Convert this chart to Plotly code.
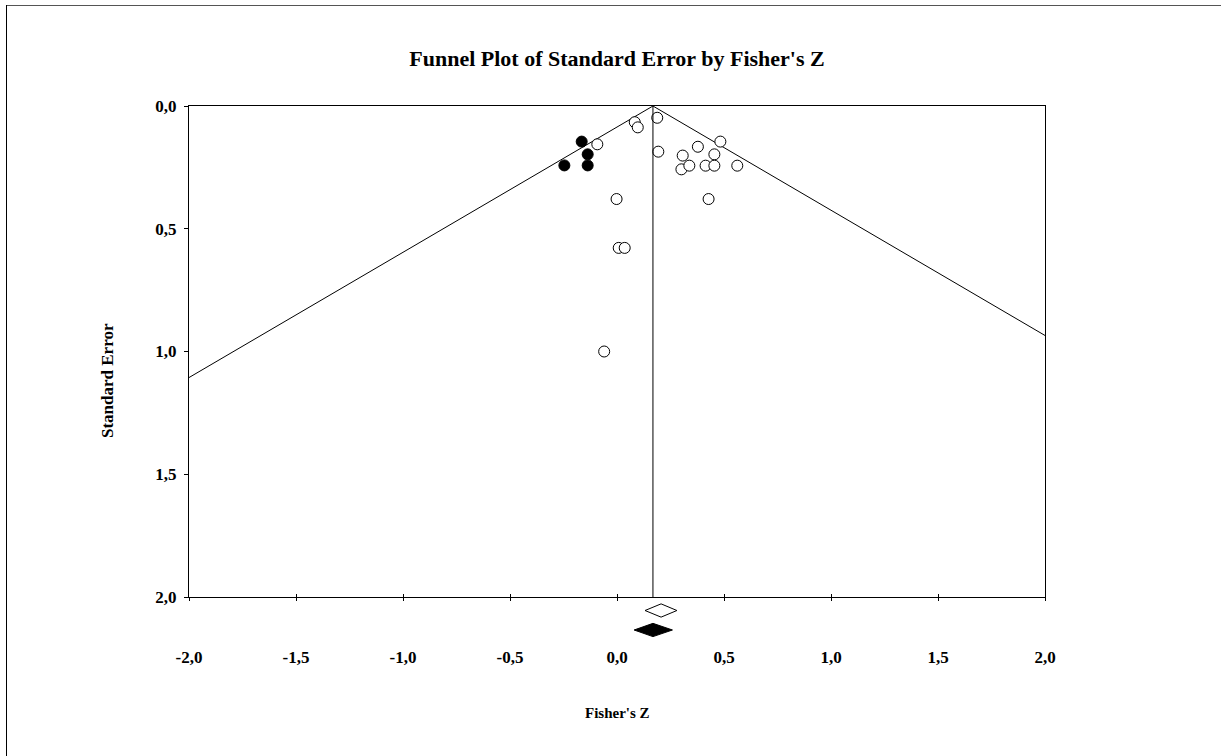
import plotly.graph_objects as go

# ---- data ----
z_obs = [-0.092, 0.083, 0.097, 0.188, 0.193, -0.002, 0.008, 0.036, 0.307, 0.301,
         0.338, 0.378, 0.414, 0.455, 0.455, 0.483, 0.562, 0.428, -0.060]
se_obs = [0.156, 0.066, 0.087, 0.048, 0.186, 0.379, 0.578, 0.578, 0.202, 0.258,
          0.243, 0.166, 0.243, 0.197, 0.243, 0.145, 0.243, 0.379, 1.000]
z_imp = [-0.165, -0.137, -0.246, -0.137]
se_imp = [0.145, 0.197, 0.242, 0.242]

center = 0.168          # funnel centre (adjusted estimate)
obs_est, obs_lo, obs_hi = 0.206, 0.131, 0.280   # observed combined (open diamond)
adj_est, adj_lo, adj_hi = 0.168, 0.080, 0.259   # adjusted combined (filled diamond)

x_ticks = [-2.0, -1.5, -1.0, -0.5, 0.0, 0.5, 1.0, 1.5, 2.0]
x_labels = ["-2,0", "-1,5", "-1,0", "-0,5", "0,0", "0,5", "1,0", "1,5", "2,0"]
y_ticks = [0.0, 0.5, 1.0, 1.5, 2.0]
y_labels = ["0,0", "0,5", "1,0", "1,5", "2,0"]

X_MIN, X_MAX, SE_MAX = -2.0, 2.0, 2.0

FONT = "Liberation Serif"
fig = go.Figure()

# funnel lines
se_left = (center - X_MIN) / 1.96
se_right = (X_MAX - center) / 1.96
fig.add_trace(go.Scatter(x=[X_MIN, center, X_MAX], y=[se_left, 0, se_right],
                         mode="lines", line=dict(color="black", width=1),
                         hoverinfo="skip", showlegend=False))
# vertical centre line (on an overlaying x axis that carries the inner tick marks)
fig.add_trace(go.Scatter(x=[center, center], y=[0, SE_MAX],
                         mode="lines", line=dict(color="black", width=1),
                         xaxis="x3", yaxis="y",
                         hoverinfo="skip", showlegend=False))

# observed studies
fig.add_trace(go.Scatter(x=z_obs, y=se_obs, mode="markers",
                         marker=dict(symbol="circle", size=11, color="white",
                                     line=dict(color="black", width=1)),
                         showlegend=False))
# imputed studies
fig.add_trace(go.Scatter(x=z_imp, y=se_imp, mode="markers",
                         marker=dict(symbol="circle", size=11, color="black",
                                     line=dict(color="black", width=1)),
                         showlegend=False))

# diamonds (second small subplot below the main one)
h = 0.34
fig.add_trace(go.Scatter(x=[obs_lo, obs_est, obs_hi, obs_est, obs_lo],
                         y=[0, -h, 0, h, 0], mode="lines", fill="toself",
                         fillcolor="white", line=dict(color="black", width=1),
                         xaxis="x2", yaxis="y2", showlegend=False))
fig.add_trace(go.Scatter(x=[adj_lo, adj_est, adj_hi, adj_est, adj_lo],
                         y=[1, 1 - h, 1, 1 + h, 1], mode="lines", fill="toself",
                         fillcolor="black", line=dict(color="black", width=1),
                         xaxis="x2", yaxis="y2", showlegend=False))

W, H = 1221, 756
ml, mr, mt, mb = 189, 176, 106, 111
pw, ph = W - ml - mr, H - mt - mb
plot_bottom = 597
ydom0 = (H - mb - plot_bottom) / ph


def px_x(px):
    return (px - ml) / pw


def px_y(py):
    return (H - mb - py) / ph


tick_font = dict(family=FONT, size=17, color="black", weight="bold")

fig.update_layout(
    width=W, height=H,
    margin=dict(l=ml, r=mr, t=mt, b=mb, autoexpand=False),
    paper_bgcolor="white", plot_bgcolor="white",
    title=dict(text="Funnel Plot of Standard Error by Fisher's Z",
               font=dict(family=FONT, size=22, color="black", weight="bold"),
               x=0.5, xref="paper", xanchor="center",
               y=1 - 58 / H, yref="container", yanchor="middle"),
    xaxis=dict(range=[X_MIN, X_MAX], tickvals=x_ticks, ticktext=x_labels,
               ticks="outside", ticklen=3, tickcolor="black",
               showline=True, linecolor="black", linewidth=1, mirror=True,
               showgrid=False, zeroline=False, anchor="y",
               tickfont=tick_font, ticklabelstandoff=42),
    xaxis3=dict(matches="x", overlaying="x", anchor="y", side="bottom",
                tickvals=x_ticks, ticks="inside", ticklen=3, tickcolor="black",
                showticklabels=False, showline=False, showgrid=False,
                zeroline=False),
    yaxis=dict(range=[SE_MAX, 0], tickvals=y_ticks, ticktext=y_labels,
               ticks="outside", ticklen=4, tickcolor="black",
               showline=True, linecolor="black", linewidth=1, mirror=True,
               showgrid=False, zeroline=False, domain=[ydom0, 1],
               tickfont=tick_font, ticklabelstandoff=4),
    xaxis2=dict(matches="x", anchor="y2", visible=False),
    yaxis2=dict(domain=[0, px_y(599)], range=[1.77, -0.59], visible=False),
    annotations=[
        dict(text="Standard Error", textangle=-90, showarrow=False,
             xref="paper", yref="paper", x=px_x(107), y=px_y(381),
             xanchor="center", yanchor="middle",
             font=dict(family=FONT, size=17, color="black", weight="bold")),
        dict(text="Fisher's Z", showarrow=False,
             xref="paper", yref="paper", x=px_x(617), y=px_y(713),
             xanchor="center", yanchor="middle",
             font=dict(family=FONT, size=15, color="black", weight="bold")),
    ],
    shapes=[
        dict(type="line", xref="paper", yref="paper",
             x0=px_x(6), x1=px_x(W + 5), y0=px_y(5.5), y1=px_y(5.5),
             line=dict(color="#555555", width=1)),
        dict(type="line", xref="paper", yref="paper",
             x0=px_x(6.5), x1=px_x(6.5), y0=px_y(5), y1=px_y(H + 5),
             line=dict(color="black", width=1)),
    ],
)

fig.write_html("out.html",
               config={"displayModeBar": False},
               post_script="document.body.style.margin='0';"
                           "document.body.style.overflow='hidden';")
